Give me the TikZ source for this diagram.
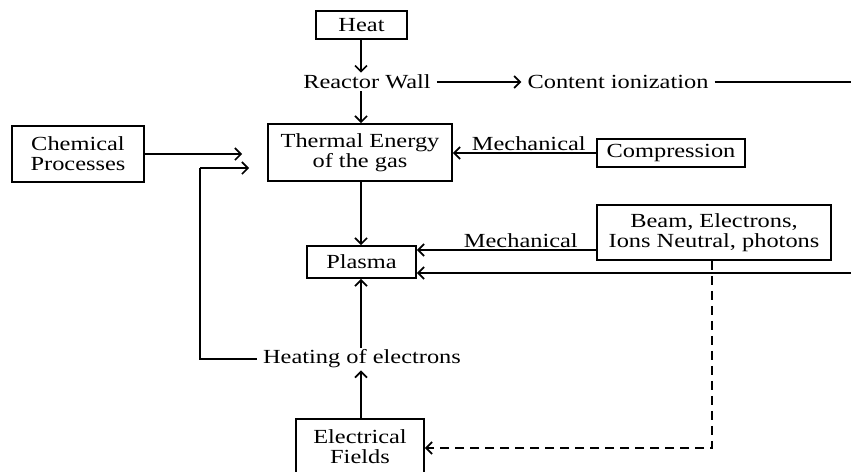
\documentclass[tikz,border=0pt]{standalone}
\usepackage{fontspec}
\setmainfont{Liberation Serif}[FakeStretch=1.22]
\usetikzlibrary{arrows.meta,calc}

\begin{document}
\begin{tikzpicture}[x=1pt, y=-1pt,
  every node/.style={font=\fontsize{20}{23}\selectfont},
  blk/.style={draw, line width=1.7pt, align=center, inner sep=0pt},
  lbl/.style={inner xsep=6pt, inner ysep=2pt},
  flow/.style={line width=1.7pt, -{Straight Barb[length=6pt,width=12pt,line width=1.7pt]}},
  wire/.style={line width=1.7pt}]
% Energy sources feeding the plasma (pixel-like coordinates, y downward)
\useasboundingbox (0,0) rectangle (851,471);

% Boxes
\node[blk, minimum width=91, minimum height=28] (heat) at (361.5,25) {Heat};
\node[blk, minimum width=184, minimum height=57] (thermal) at (360,152.5) {Thermal Energy\\[-3pt]of the gas};
\node[blk, minimum width=132, minimum height=56] (chem) at (78,154) {Chemical\\[-3pt]Processes};
\node[blk, minimum width=148, minimum height=28] (comp) at (671,153) {Compression};
\node[blk, minimum width=234, minimum height=55] (beam) at (714,232.5) {Beam, Electrons,\\[-3pt]Ions Neutral, photons};
\node[blk, minimum width=109, minimum height=32] (plasma) at (361.5,262) {Plasma};
\node[blk, minimum width=128, minimum height=56] (efield) at (360,447) {Electrical\\[-3pt]Fields};

% Plain labels
\node[lbl] (wall) at (367,82) {Reactor Wall};
\node[lbl] (ion) at (618,82) {Content ionization};
\node[lbl] (heatel) at (362,359) {Heating of electrons};

% Free ends at the right edge
\coordinate (ionend) at (851,82);
\coordinate (rightin) at (851,273);
\coordinate (loopbot) at (200,359);
\coordinate (looptop) at (200,168);
\coordinate (dashc) at (712,448);

% Top column
\draw[flow] (heat.south -| 361,0) -- (361,0 |- wall.north);
\draw[flow] (wall.east) -- (ion.west);
\draw[wire] (ion.east) -- (ionend);
\draw[flow] (361,0 |- wall.south) -- (361,0 |- thermal.north);

% Into the thermal energy box
\draw[flow, shorten >=25pt] (chem.east) -- (chem.east -| thermal.west);
\draw[wire] (heatel.west) -- (loopbot) -- (looptop);
\draw[flow, shorten >=18pt] (looptop) -- (looptop -| thermal.west);
\draw[flow] (comp.west) -- node[lbl, inner ysep=1pt, above=0pt, pos=0.47] {Mechanical} (comp.west -| thermal.east);

% Into the plasma
\draw[flow] (361,0 |- thermal.south) -- (361,0 |- plasma.north);
\draw[flow] (beam.west |- 0,250) -- node[lbl, inner ysep=1pt, above=0pt, pos=0.42] {Mechanical} (plasma.east |- 0,250);
\draw[flow] (rightin) -- (plasma.east |- rightin);
\draw[flow] (361,0 |- heatel.north) -- (361,0 |- plasma.south);
\draw[flow] (361,0 |- efield.north) -- (361,0 |- heatel.south);

% Dashed return to the electrical fields
\draw[flow, dashed, dash pattern=on 9pt off 6pt] (beam.south -| dashc) -- (dashc) -- (efield.east |- dashc);
\end{tikzpicture}
\end{document}
